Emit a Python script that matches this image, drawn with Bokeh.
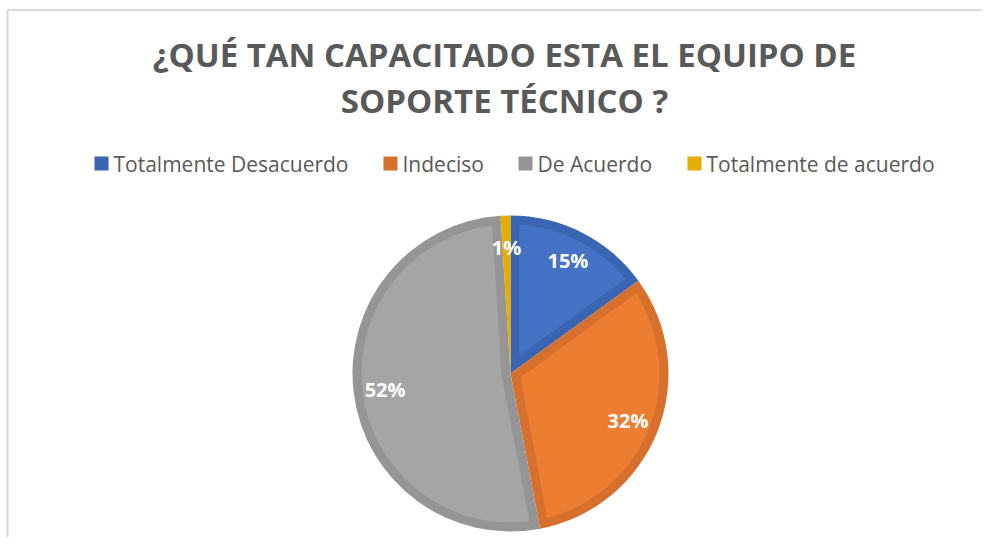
import math
import numpy as np
from bokeh.plotting import figure
from bokeh.models import Range1d
from bokeh.core.properties import value
from bokeh.embed import file_html
from bokeh.resources import INLINE

# ---------------- data ----------------
title_lines = ["¿QUÉ TAN CAPACITADO ESTA EL EQUIPO DE", "SOPORTE TÉCNICO ?"]
categories = ["Totalmente Desacuerdo", "Indeciso", "De Acuerdo", "Totalmente de acuerdo"]
values = [15, 32, 52, 1]
fill_colors = ["#4472C4", "#ED7D31", "#A5A5A5", "#E6AC00"]
edge_colors = ["#3A65B3", "#D6702C", "#959595", "#E6AC00"]

# ---------------- layout ----------------
W, H = 982, 537
def py(img_y):
    return H - img_y  # image y (from top) -> data y

CX, CY = 510, py(373)
R = 158
BAND = 9
LABEL_R = 0.8 * R
TEXT_COLOR = "#595959"

p = figure(width=W, height=H, output_backend="svg", toolbar_location=None,
           x_range=Range1d(0, W), y_range=Range1d(0, H),
           min_border=0, outline_line_color=None)
p.axis.visible = False
p.grid.visible = False
p.background_fill_color = "white"
p.border_fill_color = "white"

# chart border (left and top)
p.line(x=[7, 7], y=[0, py(9.5)], line_color="#D9D9D9", line_width=2)
p.line(x=[7, W], y=[py(9.5), py(9.5)], line_color="#D9D9D9", line_width=2)

# title
p.text(x=[504, 504], y=[py(54), py(99.5)], text=title_lines,
       text_font=value("Open Sans"), text_font_style="bold", text_font_size="33px",
       text_color=TEXT_COLOR, text_align="center", text_baseline="middle")

# legend
legend_x = [94, 383, 518, 687]
sq = 14
p.rect(x=[lx + sq / 2 for lx in legend_x], y=[py(163)] * 4, width=sq, height=sq,
       fill_color=edge_colors, line_color=None)
p.text(x=[lx + 19 for lx in legend_x], y=[py(163)] * 4, text=categories,
       text_font=value("Open Sans"), text_font_size="21px", text_color=TEXT_COLOR,
       text_align="left", text_baseline="middle")

# pie
total = float(sum(values))
cum = np.concatenate([[0.0], np.cumsum(values) / total])
starts = [math.pi / 2 - 2 * math.pi * cum[i + 1] for i in range(len(values))]
ends = [math.pi / 2 - 2 * math.pi * cum[i] for i in range(len(values))]

p.wedge(x=CX, y=CY, radius=R, start_angle=starts, end_angle=ends,
        fill_color=edge_colors, line_color=None)

xs, ys, inner_colors = [], [], []
r_in = R - BAND
delta = math.asin(BAND / r_in)
for s, e, c in zip(starts, ends, fill_colors):
    theta = e - s
    if theta <= 2 * delta:
        continue
    m = (s + e) / 2
    dP = BAND / math.sin(theta / 2)
    phi = np.linspace(s + delta, e - delta, 200)
    px = [CX + dP * math.cos(m)] + list(CX + r_in * np.cos(phi))
    pyy = [CY + dP * math.sin(m)] + list(CY + r_in * np.sin(phi))
    xs.append(px)
    ys.append(pyy)
    inner_colors.append(c)
p.patches(xs=xs, ys=ys, fill_color=inner_colors, line_color=None)

# data labels
mids = [(s + e) / 2 for s, e in zip(starts, ends)]
labels = [f"{v / total * 100:.0f}%" for v in values]
lx = [CX + LABEL_R * math.cos(m) for m in mids]
ly = [CY + LABEL_R * math.sin(m) for m in mids]
p.text(x=lx, y=ly, text=labels, text_font=value("Open Sans"), text_font_style="bold",
       text_font_size="20px", text_color="white", text_align="center", text_baseline="middle")

open("out.html", "w").write(file_html(p, INLINE))
